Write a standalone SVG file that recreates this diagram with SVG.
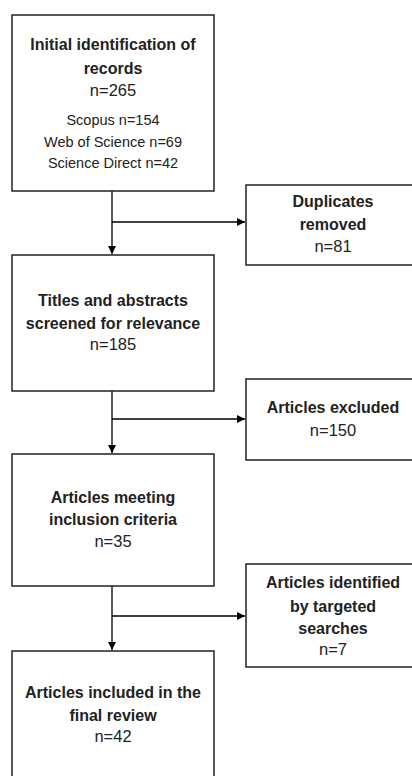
<svg xmlns="http://www.w3.org/2000/svg" width="412" height="776" viewBox="0 0 412 776">
<style>
.box{fill:#fff;stroke:#222;stroke-width:1.5}
.b{font-family:"Liberation Sans",Arial,sans-serif;font-weight:bold;font-size:16px;fill:#222;text-anchor:middle}
.n{font-family:"Liberation Sans",Arial,sans-serif;font-size:16.5px;fill:#222;text-anchor:middle}
.s{font-family:"Liberation Sans",Arial,sans-serif;font-size:14.5px;fill:#222;text-anchor:middle}
.c{stroke:#000;stroke-width:1.3;fill:none}
</style>
<defs>
<marker id="ah" viewBox="0 0 10 10" refX="10" refY="5" markerWidth="8" markerHeight="8" markerUnits="userSpaceOnUse" orient="auto">
<path d="M0,0 L10,5 L0,10 Z" fill="#000"/>
</marker>
</defs>
<rect width="412" height="776" fill="#fff"/>
<g id="connectors">
<line class="c" x1="112" y1="191" x2="112" y2="254" marker-end="url(#ah)"/>
<line class="c" x1="112" y1="222" x2="245" y2="222" marker-end="url(#ah)"/>
<line class="c" x1="112" y1="391" x2="112" y2="453" marker-end="url(#ah)"/>
<line class="c" x1="112" y1="419" x2="245" y2="419" marker-end="url(#ah)"/>
<line class="c" x1="112" y1="586" x2="112" y2="650" marker-end="url(#ah)"/>
<line class="c" x1="112" y1="616" x2="245" y2="616" marker-end="url(#ah)"/>
</g>
<g id="initial">
<rect class="box" x="12" y="15" width="202" height="176"/>
<text class="b" x="113" y="50">Initial identification of</text>
<text class="b" x="113" y="74">records</text>
<text class="n" x="113" y="96">n=265</text>
<text class="s" x="113" y="125">Scopus n=154</text>
<text class="s" x="113" y="147">Web of Science n=69</text>
<text class="s" x="113" y="168">Science Direct n=42</text>
</g>
<g id="duplicates">
<rect class="box" x="246" y="185" width="175" height="80"/>
<text class="b" x="333" y="207">Duplicates</text>
<text class="b" x="333" y="230">removed</text>
<text class="n" x="333" y="252">n=81</text>
</g>
<g id="screened">
<rect class="box" x="12" y="255" width="202" height="136"/>
<text class="b" x="113" y="306">Titles and abstracts</text>
<text class="b" x="113" y="329">screened for relevance</text>
<text class="n" x="113" y="350">n=185</text>
</g>
<g id="excluded">
<rect class="box" x="246" y="379" width="175" height="81"/>
<text class="b" x="333" y="413">Articles excluded</text>
<text class="n" x="333" y="436">n=150</text>
</g>
<g id="meeting">
<rect class="box" x="12" y="454" width="202" height="132"/>
<text class="b" x="113" y="503">Articles meeting</text>
<text class="b" x="113" y="525">inclusion criteria</text>
<text class="n" x="113" y="547">n=35</text>
</g>
<g id="targeted">
<rect class="box" x="246" y="564" width="175" height="103"/>
<text class="b" x="333" y="588">Articles identified</text>
<text class="b" x="333" y="612">by targeted</text>
<text class="b" x="333" y="634">searches</text>
<text class="n" x="333" y="655">n=7</text>
</g>
<g id="final">
<rect class="box" x="12" y="651" width="202" height="135"/>
<text class="b" x="113" y="698">Articles included in the</text>
<text class="b" x="113" y="721">final review</text>
<text class="n" x="113" y="742">n=42</text>
</g>
</svg>
